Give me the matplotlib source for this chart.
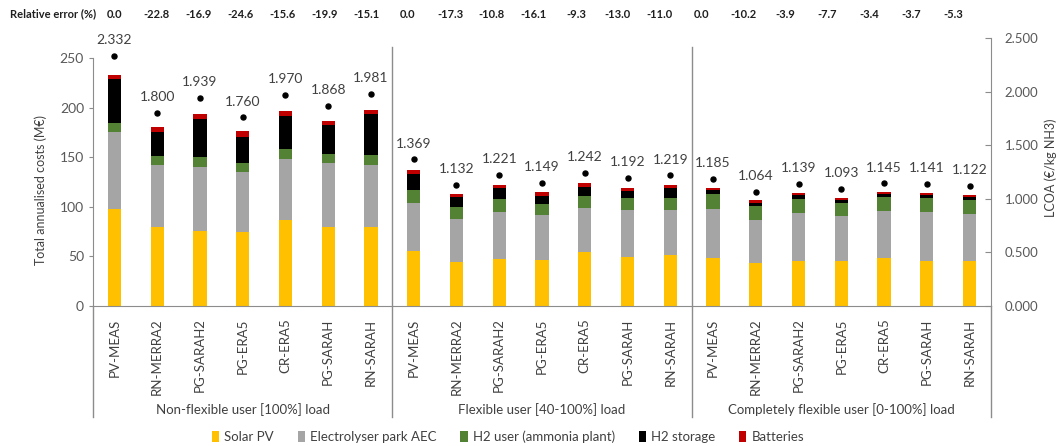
import numpy as np
import matplotlib
matplotlib.use("Agg")
import matplotlib.pyplot as plt
from matplotlib.transforms import blended_transform_factory
from matplotlib.lines import Line2D

plt.rcParams["font.family"] = ["Lato", "DejaVu Sans"]

# ---- data -------------------------------------------------------------
sources = ["PV-MEAS", "RN-MERRA2", "PG-SARAH2", "PG-ERA5", "CR-ERA5", "PG-SARAH", "RN-SARAH"]
groups = ["Non-flexible user [100%] load",
          "Flexible user [40-100%] load",
          "Completely flexible user [0-100%] load"]
categories = sources * len(groups)

solar_pv = [98, 80, 76, 75, 86.5, 79.5, 80,
            55.5, 44, 47.5, 46.5, 54, 49.5, 51,
            48, 43, 45, 45.5, 48.5, 45, 45]
electrolyser = [77, 62, 64, 60, 62, 65, 62,
                48, 44, 47.5, 45, 44.5, 47, 45.5,
                50, 44, 49, 45, 47.5, 49.5, 48]
h2_user = [9, 9, 10, 9.5, 10, 9, 10,
           13, 12, 13, 11.5, 12, 12.5, 12.5,
           14.5, 13.5, 14, 13.5, 14, 14, 14]
h2_storage = [45, 24.5, 39, 25.5, 33, 29, 41.5,
              16.5, 9.5, 10.5, 8, 9, 7, 9.5,
              4, 3.5, 3.5, 3, 2.5, 3.5, 3]
batteries = [4.2, 4.5, 4.9, 6, 5.5, 4.3, 4.6,
             3.9, 3.7, 3.6, 3.9, 4.7, 3.2, 3.4,
             2, 2.4, 2.4, 2.3, 2, 2.1, 2.2]
lcoa = [2.332, 1.800, 1.939, 1.760, 1.970, 1.868, 1.981,
        1.369, 1.132, 1.221, 1.149, 1.242, 1.192, 1.219,
        1.185, 1.064, 1.139, 1.093, 1.145, 1.141, 1.122]
rel_error = [0.0, -22.8, -16.9, -24.6, -15.6, -19.9, -15.1,
             0.0, -17.3, -10.8, -16.1, -9.3, -13.0, -11.0,
             0.0, -10.2, -3.9, -7.7, -3.4, -3.7, -5.3]

series = [("Solar PV", solar_pv, "#FFC000"),
          ("Electrolyser park AEC", electrolyser, "#A5A5A5"),
          ("H2 user (ammonia plant)", h2_user, "#548235"),
          ("H2 storage", h2_storage, "#000000"),
          ("Batteries", batteries, "#C00000")]

# ---- figure -----------------------------------------------------------
W, H = 1057, 446
fig = plt.figure(figsize=(W / 100, H / 100), dpi=100)
ax = fig.add_axes([93 / W, (H - 306) / H, (991 - 93) / W, 268 / H])
ax2 = ax.twinx()

axis_grey = "#8C8C8C"
text_grey = "#595959"
dark = "#404040"

x = np.arange(len(categories))
bottom = np.zeros(len(categories))
handles = []
for name, vals, col in series:
    vals = np.asarray(vals, dtype=float)
    b = ax.bar(x, vals, width=0.31, bottom=bottom, color=col, label=name, zorder=2)
    bottom += vals
    handles.append(b)

ax.set_xlim(-0.5, len(categories) - 0.5)
ax.set_ylim(0, 270.2)
ax.set_yticks(np.arange(0, 251, 50))
ax.spines["left"].set_bounds(0, 250)
for s in ["top", "right"]:
    ax.spines[s].set_visible(False)
ax.spines["left"].set_color(axis_grey)
ax.spines["bottom"].set_color(axis_grey)
ax.tick_params(axis="y", colors=axis_grey, labelcolor=text_grey, labelsize=10,
               length=3, direction="out")
ax.set_xticks(x)
ax.set_xticklabels(categories, rotation=90, fontsize=9.5, color=dark)
ax.tick_params(axis="x", length=0, pad=9)
ax.set_ylabel("Total annualised costs (M€)", fontsize=9, color=dark)
ax.yaxis.set_label_coords(-0.0512, 0.433)

# LCOA on secondary axis
ax2.plot(x, lcoa, "o", color="black", ms=3.6, zorder=3)
for xi, v in zip(x, lcoa):
    ax2.annotate(f"{v:.3f}", (xi, v), xytext=(0, 7), textcoords="offset points",
                 ha="center", va="bottom", fontsize=10, color=dark)
ax2.set_ylim(0, 2.5)
ax2.set_yticks(np.arange(0, 2.51, 0.5))
ax2.set_yticklabels([f"{t:.3f}" for t in np.arange(0, 2.51, 0.5)])
for s in ["top", "left", "bottom"]:
    ax2.spines[s].set_visible(False)
ax2.spines["right"].set_color(axis_grey)
ax2.tick_params(axis="y", colors=axis_grey, labelcolor=text_grey, labelsize=9.5,
                length=4, direction="in", pad=10)
ax2.set_ylabel("LCOA (€/kg NH3)", fontsize=9, color=dark, va="center")
ax2.yaxis.set_label_coords(1.066, 0.515)

# group separators and group labels
trans = blended_transform_factory(ax.transData, ax.transAxes)
n = len(sources)
for k in range(len(groups) + 1):
    xb = k * n - 0.5
    top = 0.966 if 0 < k < len(groups) else 0.0
    ax.add_line(Line2D([xb, xb], [-0.414, top], transform=trans, color=axis_grey,
                       lw=1, clip_on=False, zorder=1))
for k, g in enumerate(groups):
    ax.text(k * n + (n - 1) / 2, -0.388, g, transform=trans, ha="center",
            va="center", fontsize=9.5, color=dark)

# relative error row
fig.text(10 / W, (H - 14) / H, "Relative error (%)", ha="left", va="center",
         fontsize=8, fontweight="bold", color="#1F1F1F")
err_x = np.linspace(0, 19.62, len(rel_error))
for xe, e in zip(err_x, rel_error):
    ax.text(xe, (306 - 14) / 268, f"{e:.1f}", transform=trans, ha="center",
            va="center", fontsize=8, fontweight="bold", color="#1F1F1F")

fig.legend(handles=handles, labels=[s[0] for s in series], loc="center",
           bbox_to_anchor=(508 / W, (H - 437) / H), ncol=5, frameon=False,
           fontsize=9.5, handlelength=0.55, handleheight=0.9, handletextpad=0.4,
           columnspacing=1.8, labelcolor=dark)

fig.savefig("out.png", dpi=100)
